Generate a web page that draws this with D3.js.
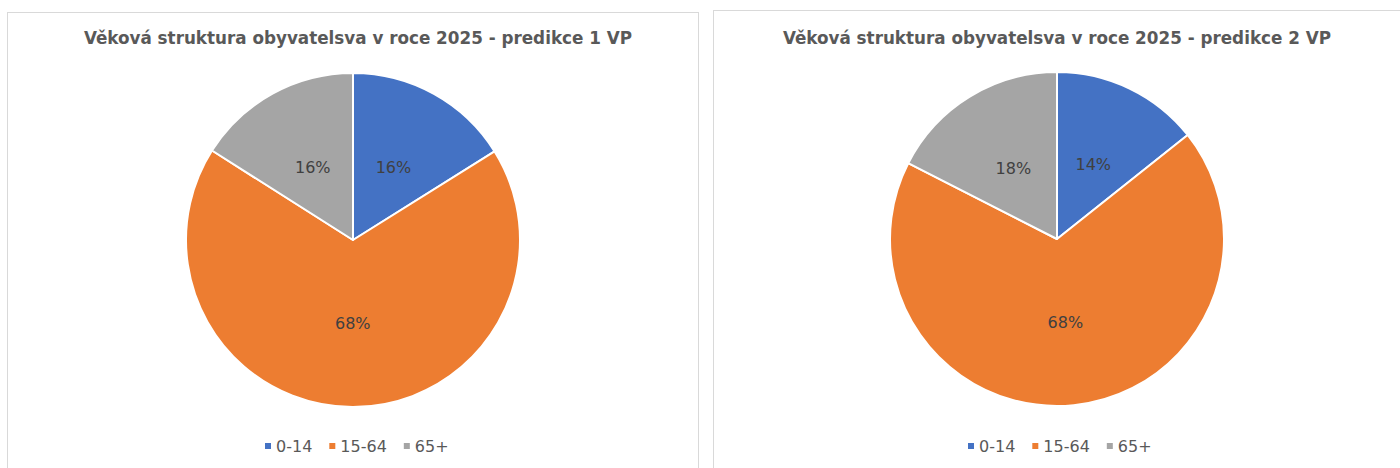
<!DOCTYPE html>
<html><head><meta charset="utf-8">
<script src="https://cdn.jsdelivr.net/npm/d3@7"></script>
<style>body{margin:0;background:#fff;}svg{display:block;}</style>
</head><body>
<svg id="c" width="1400" height="468"></svg>
<script>
const categories = ["0-14", "15-64", "65+"];
const colors = ["#4472C4", "#ED7D31", "#A5A5A5"];
const titles = ["Věková struktura obyvatelsva v roce 2025 - predikce 1 VP",
                "Věková struktura obyvatelsva v roce 2025 - predikce 2 VP"];
const values1 = [16.1, 67.9, 16.0];
const values2 = [14.3, 68.2, 17.5];
const labels1 = ["16%", "68%", "16%"];
const labels2 = ["14%", "68%", "18%"];

const svg = d3.select("#c");
const panels = [
  {x: 7.5, y: 12.5, w: 691, h: 470, cx: 353, cy: 240, tx: 358, values: values1, labels: labels1, legendX: 265},
  {x: 713.5, y: 10.5, w: 700, h: 470, cx: 1057, cy: 239, tx: 1057, values: values2, labels: labels2, legendX: 968}
];
titles.forEach((t, i) => panels[i].title = t);

const r = 167;
const pie = d3.pie().sort(null).value(d => d);
const arc = d3.arc().innerRadius(0).outerRadius(r);
const textColor = "#595959";

panels.forEach(p => {
  svg.append("rect").attr("x", p.x).attr("y", p.y).attr("width", p.w).attr("height", p.h)
    .attr("fill", "#fff").attr("stroke", "#d9d9d9").attr("stroke-width", 1);
  svg.append("text").attr("x", p.tx).attr("y", 44).attr("text-anchor", "middle")
    .attr("font-family", "'DejaVu Sans Condensed', 'DejaVu Sans', sans-serif")
    .attr("font-weight", "bold").attr("font-size", 17).attr("fill", textColor)
    .attr("textLength", 548).attr("lengthAdjust", "spacingAndGlyphs")
    .text(p.title);
  const g = svg.append("g").attr("transform", `translate(${p.cx},${p.cy})`);
  const arcs = pie(p.values);
  g.selectAll("path").data(arcs).enter().append("path")
    .attr("d", arc).attr("fill", (d, i) => colors[i])
    .attr("stroke", "#fff").attr("stroke-width", 2).attr("stroke-linejoin", "round");
  g.selectAll("text.lbl").data(arcs).enter().append("text").attr("class", "lbl")
    .attr("transform", d => { const c = arc.centroid(d); return `translate(${c[0]},${c[1] + 6})`; })
    .attr("text-anchor", "middle")
    .attr("font-family", "Verdana, 'DejaVu Sans', sans-serif").attr("font-size", 16)
    .attr("fill", "#404040")
    .text((d, i) => p.labels[i]);
  // legend
  const lg = svg.append("g").attr("transform", `translate(${p.legendX},446)`);
  let x = 0;
  categories.forEach((c, i) => {
    lg.append("rect").attr("x", x).attr("y", -3).attr("width", 6).attr("height", 6).attr("fill", colors[i]);
    const t = lg.append("text").attr("x", x + 11).attr("y", 6)
      .attr("font-family", "Verdana, 'DejaVu Sans', sans-serif").attr("font-size", 16)
      .attr("fill", textColor).text(c);
    const w = t.node().getComputedTextLength();
    x += 11 + w + 17;
  });
});
</script>
</body></html>
